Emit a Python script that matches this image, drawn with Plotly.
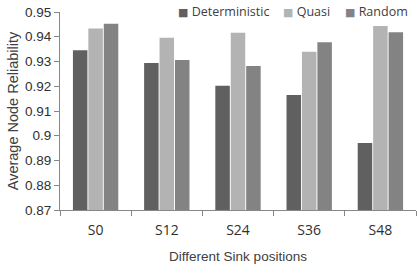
import plotly.graph_objects as go

categories = ["S0", "S12", "S24", "S36", "S48"]
deterministic = [0.9345, 0.9294, 0.9202, 0.9165, 0.8971]
quasi = [0.9433, 0.9396, 0.9416, 0.9339, 0.9443]
random_vals = [0.9453, 0.9306, 0.9282, 0.9378, 0.9418]
series_names = ["Deterministic", "Quasi", "Random"]
series_colors = ["#606060", "#b3b3b3", "#838383"]
y_ticks = [0.87, 0.88, 0.89, 0.90, 0.91, 0.92, 0.93, 0.94, 0.95]
y_ticklabels = ["0.87", "0.88", "0.89", "0.9", "0.91", "0.92", "0.93", "0.94", "0.95"]

W, H = 417, 280
ML, MR, MT, MB = 60, 1, 12, 70
axis_col = "#878787"
text_col = "#404040"

fig = go.Figure()
for name, vals, col in zip(series_names, [deterministic, quasi, random_vals], series_colors):
    fig.add_trace(go.Bar(x=categories, y=vals, name=name, marker=dict(color=col, line=dict(width=0)),
                         showlegend=False))

# legend drawn as text entries
legend_px = [176, 281, 343]
pw = W - ML - MR
ph = H - MT - MB
for name, col, px in zip(series_names, series_colors, legend_px):
    fig.add_annotation(
        x=(px - ML) / pw, y=(H - MB - 11) / ph, xref="paper", yref="paper",
        xanchor="left", yanchor="middle", showarrow=False,
        text=f"<span style='color:{col};font-family:DejaVu Sans;font-size:11px'>■</span> {name}",
        font=dict(family="Open Sans", size=12.5, color=text_col),
    )

fig.update_layout(
    width=W, height=H,
    margin=dict(l=ML, r=MR, t=MT, b=MB),
    paper_bgcolor="white", plot_bgcolor="white",
    barmode="group", bargap=0.35, bargroupgap=0.06,
    font=dict(family="Liberation Sans", color=text_col),
)
fig.update_xaxes(
    type="category", showline=True, linecolor=axis_col, linewidth=1,
    ticks="outside", tickson="boundaries", ticklen=5, tickcolor=axis_col,
    showgrid=False, tickfont=dict(family="Open Sans", size=14, color="#303030"),
    ticklabelstandoff=7,
    title=dict(text="Different Sink positions", font=dict(family="Liberation Sans", size=13.5, color=text_col), standoff=13),
)
fig.update_yaxes(
    range=[0.87, 0.95], tickvals=y_ticks, ticktext=y_ticklabels,
    showline=True, linecolor=axis_col, linewidth=1,
    ticks="outside", ticklen=5, tickcolor=axis_col, showgrid=False, zeroline=False,
    tickfont=dict(family="Liberation Sans", size=13.5, color="#303030"),
    title=dict(text="Average Node Reliability", font=dict(family="Liberation Sans", size=14.5, color=text_col), standoff=2),
)
fig.write_html("out.html")
